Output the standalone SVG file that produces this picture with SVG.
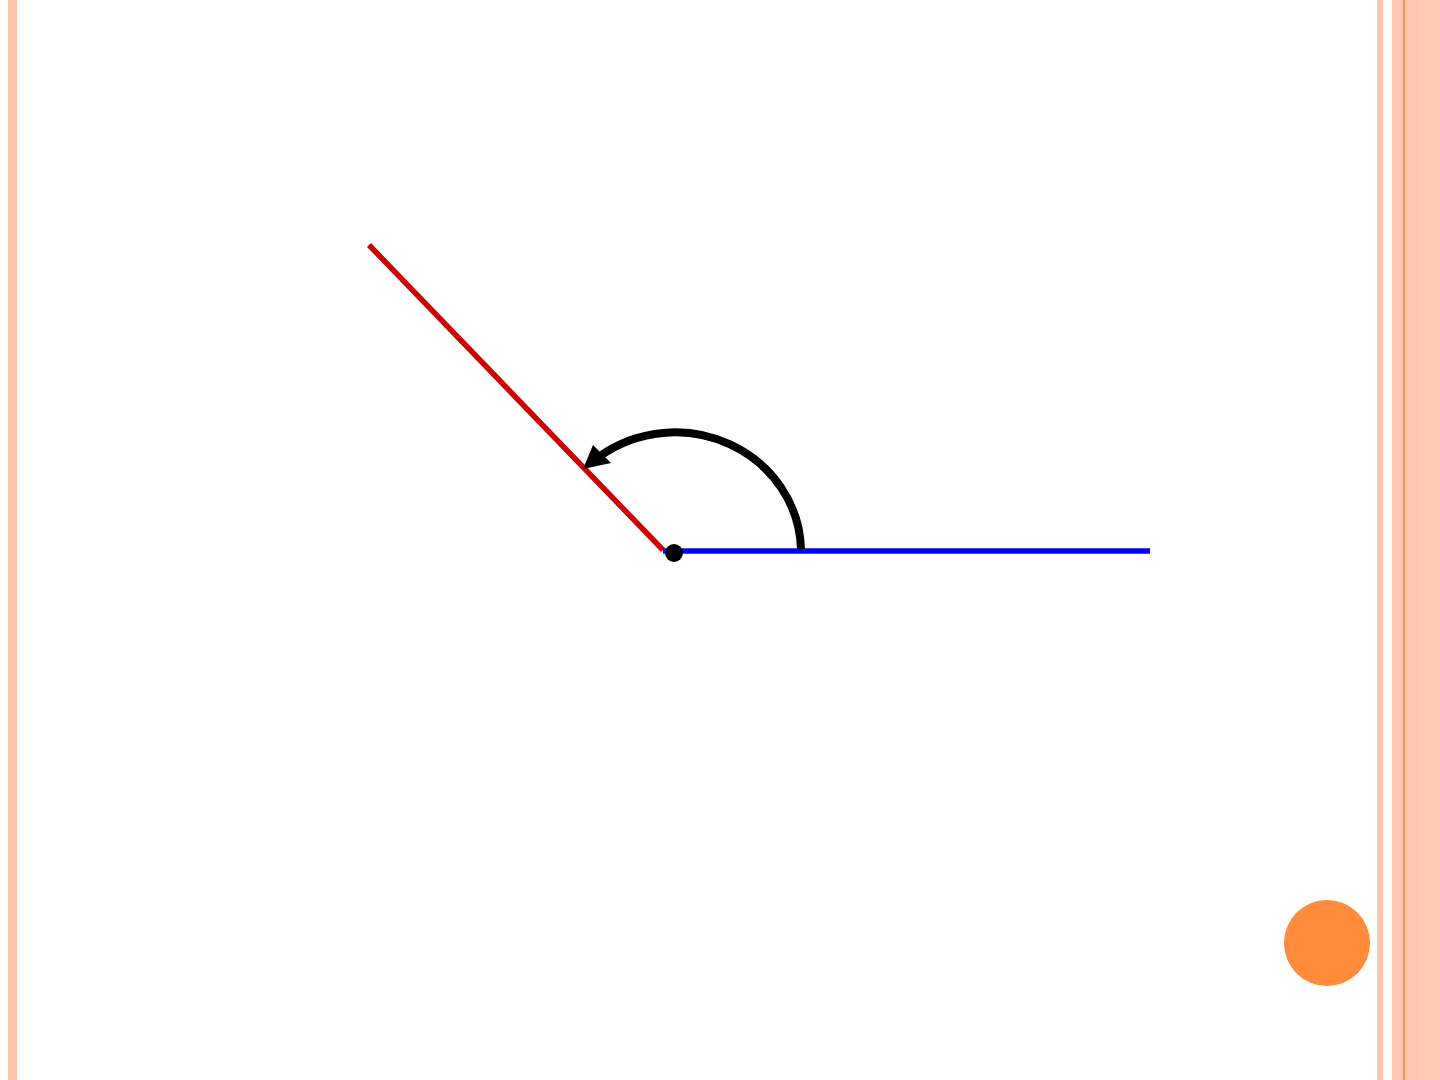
<svg xmlns="http://www.w3.org/2000/svg" width="1440" height="1080" viewBox="0 0 1440 1080">
<defs>
<style>
.stripe{fill:#FFC4B0}
.ray{fill:none;stroke-width:5.5}
</style>
</defs>
<rect width="1440" height="1080" fill="#FFFFFF"/>
<g id="border">
<rect class="stripe" x="8" y="0" width="9" height="1080"/>
<rect class="stripe" x="1377" y="0" width="6" height="1080"/>
<rect x="1392" y="0" width="48" height="1080" fill="#FFC6B2"/>
<rect x="1418" y="0" width="22" height="1080" fill="#FFCAB6"/>
<rect x="1403" y="0" width="2" height="1080" fill="#F29055"/>
</g>
<g id="connectors">
<line id="red-ray" class="ray" x1="369" y1="245" x2="663" y2="550" stroke="#CC0000"/>
<line id="blue-ray" class="ray" x1="663" y1="551" x2="1150" y2="551" stroke="#0000FF"/>
<path id="arc" d="M 801 549 A 126 120 0 0 0 600 456" fill="none" stroke="#000000" stroke-width="8"/>
<polygon id="arrowhead" points="583,469 593,445 611,463" fill="#000000"/>
</g>
<g id="vertex">
<circle cx="674" cy="553" r="9" fill="#000000"/>
</g>
<g id="page-dot">
<circle cx="1327" cy="943" r="43" fill="#FF8B3B"/>
</g>
</svg>
